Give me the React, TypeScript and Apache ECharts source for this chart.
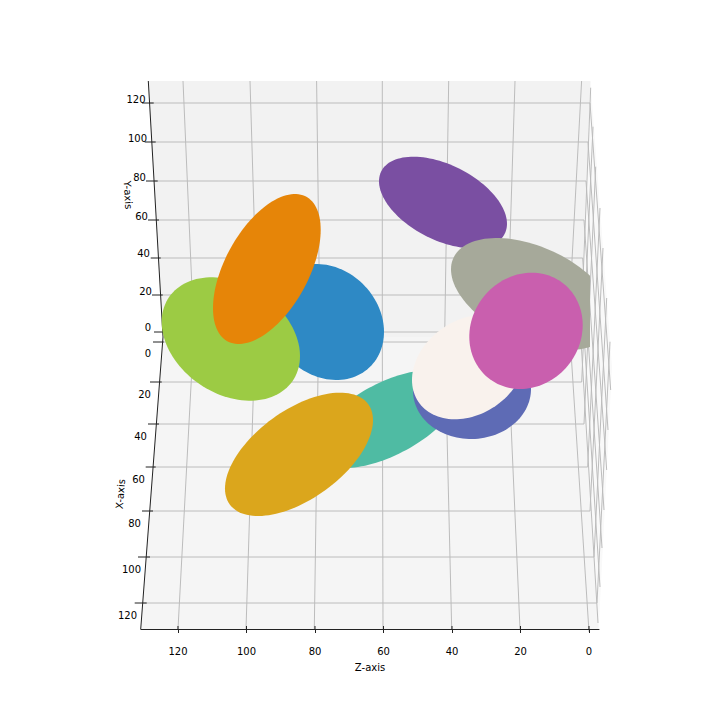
import React, { useEffect, useRef } from "react";
import * as echarts from "echarts";

// Tick labels
const zTicks = [120, 100, 80, 60, 40, 20, 0];
const yTicks = [120, 100, 80, 60, 40, 20, 0];
const xTicks = [0, 20, 40, 60, 80, 100, 120];

// Blob outlines, in the projected plane (u right, v down): left, right, top, bottom, u at top, u limit
const purple = [379, 507, 156.7, 248.3, 413.3, 999];
const grey = [451, 614, 238, 350, 496.7, 590];
const teal = [315, 460, 370, 468, 430, 999];
const indigo = [413, 531, 341, 439, 473, 999];
const beige = [412, 526, 315, 419.3, 483, 999];
const pink = [469.3, 582.7, 272.7, 389, 531.7, 999];
const blue = [269, 384, 264, 380, 316.7, 999];
const green = [161.7, 300, 277.3, 400.7, 211.7, 999];
const orange = [213, 320.7, 194, 344, 295, 999];
const gold = [225, 373, 392.7, 516, 340, 999];
const blobs = [purple, grey, teal, indigo, beige, pink, blue, green, orange, gold];
const blobColors = ["#7a4fa2", "#a6a99a", "#4fbba3", "#5e6bb5", "#f9f2ed", "#c95fae", "#2e89c5", "#9ccb44", "#e68508", "#dba61c"];

// Panes (polygon corners in the projected plane)
const backPane = [148.3, 81, 590.5, 81, 580.5, 337, 163, 337];
const floorPane = [163, 337, 580.5, 337, 598.7, 629, 140.7, 629];
const sidePane = [590.5, 81, 612, 367, 598.7, 629, 580.5, 337];
const panes = [sidePane, backPane, floorPane];
const paneColors = ["#f9f9f9", "#f2f2f2", "#f5f5f5"];

// Grid rows on the two panes: v, u start, u end
const backRowV = [103, 142, 181, 220, 258, 295, 332];
const backRowEnd = [590, 588, 586, 584, 582.7, 581.5, 580.5];
const floorRowV = [342, 382, 424, 467, 511, 557, 603];
const floorRowEnd = [580.5, 581.7, 584, 587.7, 590, 594, 597];
const leftBack = (v: number) => 148.3 + (v - 81.7) * 0.0576;
const leftFloor = (v: number) => 163.3 - (v - 341.7) * 0.0786;

// Grid columns: u at top, u at seam, u at bottom
const colTop = [183, 250, 316.6, 382.3, 448.7, 515, 581.6];
const colSeamBack = [194, 257.7, 320, 382.3, 444.7, 507, 568];
const colSeamFloor = [193.4, 255, 318.5, 382.3, 444.8, 507.4, 570.3];
const colBottom = [178, 246, 314.3, 383, 451.7, 520, 589];

// Side-pane grid: far ends
const sideRowEnd = [[610.7, 390], [608, 430], [606.7, 470], [604, 510], [602, 548], [600, 587], [598, 623]];
const sideColEnd = [[590.7, 87.7], [593, 126.7], [595.7, 166.7], [600, 208], [603, 248], [606.7, 298], [610, 341.7]];

// Left ticks: v, u start, u end
const backTickStart = [142, 144.7, 146, 148, 150.7, 152, 154];
const backTickEnd = [153.7, 155.7, 157.7, 159, 160.7, 162.7, 163];
const floorTickStart = [153, 150, 148, 145.7, 142, 138, 134.7];
const floorTickEnd = [163.7, 161.7, 159, 155.7, 153, 150, 146.7];

// Left tick label centres
const yLabelU = [136, 137.5, 139.5, 141.5, 143.5, 145.5, 148];
const yLabelV = [99, 138, 177, 216, 253, 291, 327];
const xLabelU = [148, 144.5, 140.5, 138.5, 134.5, 131.5, 127.5];
const xLabelV = [353, 394, 436, 479, 523, 569, 615];

const gridRows: number[][] = [];
backRowV.forEach((v, i) => gridRows.push([leftBack(v), v, backRowEnd[i], v]));
floorRowV.forEach((v, i) => gridRows.push([leftFloor(v), v, floorRowEnd[i], v]));
colTop.forEach((u, i) => gridRows.push([u, 81, colSeamBack[i], 335]));
colSeamFloor.forEach((u, i) => gridRows.push([u, 341, colBottom[i], i === 6 ? 632 : 629]));
backRowV.forEach((v, i) => gridRows.push([backRowEnd[i], v, sideRowEnd[i][0], sideRowEnd[i][1]]));
floorRowV.forEach((v, i) => gridRows.push([floorRowEnd[i], v, sideColEnd[i][0], sideColEnd[i][1]]));

const axisRows: number[][] = [
  [148.3, 81, 163, 337],
  [163, 337, 140.7, 629.3],
];
backRowV.forEach((v, i) => axisRows.push([backTickStart[i], v, backTickEnd[i], v]));
floorRowV.forEach((v, i) => axisRows.push([floorTickStart[i], v, floorTickEnd[i], v]));

type Lab = { value: number[]; text: string; rot: number };
const labelRows: Lab[] = [];
yTicks.forEach((t, i) => labelRows.push({ value: [yLabelU[i], yLabelV[i]], text: String(t), rot: 0 }));
xTicks.forEach((t, i) => labelRows.push({ value: [xLabelU[i], xLabelV[i]], text: String(t), rot: 0 }));
labelRows.push({ value: [128, 195], text: "Y-axis", rot: (-86.6 * Math.PI) / 180 });
labelRows.push({ value: [120.5, 494], text: "X-axis", rot: (85.6 * Math.PI) / 180 });

const FONT = "DejaVu Sans";

function lineSeries(rows: number[][], stroke: string, lineWidth: number) {
  return {
    type: "custom",
    xAxisIndex: 1,
    yAxisIndex: 1,
    silent: true,
    data: rows,
    renderItem: (_: any, api: any) => {
      const a = api.coord([api.value(0), api.value(1)]);
      const b = api.coord([api.value(2), api.value(3)]);
      return {
        type: "line",
        shape: { x1: a[0], y1: a[1], x2: b[0], y2: b[1] },
        style: { stroke, lineWidth },
      };
    },
  };
}

function blobPoints(api: any) {
  const [l, r, t, b, topU, limit] = [0, 1, 2, 3, 4, 5].map((d) => api.value(d));
  const cu = (l + r) / 2;
  const cv = (t + b) / 2;
  const hw = (r - l) / 2;
  const hh = (b - t) / 2;
  const rho = (cu - topU) / hw;
  const root = Math.sqrt(1 - rho * rho);
  const pts: number[][] = [];
  for (let k = 0; k < 120; k++) {
    const a = (k / 120) * Math.PI * 2;
    const u = cu + hw * Math.cos(a);
    const v = cv + hh * (rho * Math.cos(a) + root * Math.sin(a));
    pts.push(api.coord([Math.min(u, limit), v]));
  }
  return pts;
}

export default function App() {
  const ref = useRef<HTMLDivElement>(null);
  useEffect(() => {
    const chart = echarts.init(ref.current!, undefined, { renderer: "svg" });
    chart.setOption({
      animation: false,
      backgroundColor: "#ffffff",
      textStyle: { fontFamily: FONT, fontSize: 10, color: "#000" },
      grid: [
        { left: 141, right: 121, top: 81, bottom: 91 },
        { left: 0, right: 0, top: 0, bottom: 0 },
      ],
      xAxis: [
        {
          gridIndex: 0,
          type: "value",
          inverse: true,
          min: -2.92,
          max: 130.8,
          z: 10,
          name: "Z-axis",
          nameLocation: "middle",
          nameGap: 33,
          nameTextStyle: { fontFamily: FONT, fontSize: 10, color: "#000" },
          axisLine: { show: true, onZero: false, lineStyle: { color: "#222", width: 1 } },
          axisTick: { show: true, length: 4, lineStyle: { color: "#222", width: 1 }, customValues: zTicks },
          axisLabel: { show: true, margin: 17, fontFamily: FONT, fontSize: 10, color: "#000", customValues: zTicks },
          splitLine: { show: false },
        },
        { gridIndex: 1, type: "value", min: 0, max: 720, show: false },
      ],
      yAxis: [
        { gridIndex: 0, type: "value", min: 0, max: 1, show: false },
        { gridIndex: 1, type: "value", min: 0, max: 720, inverse: true, show: false },
      ],
      series: [
        {
          type: "custom",
          xAxisIndex: 1,
          yAxisIndex: 1,
          silent: true,
          data: panes,
          renderItem: (p: any, api: any) => {
            const pts = [0, 2, 4, 6].map((d) => api.coord([api.value(d), api.value(d + 1)]));
            return { type: "polygon", shape: { points: pts }, style: { fill: paneColors[p.dataIndex] } };
          },
        },
        lineSeries(gridRows, "#bcbcbc", 1),
        lineSeries(axisRows, "#222222", 1),
        {
          type: "custom",
          xAxisIndex: 0,
          yAxisIndex: 0,
          silent: true,
          data: zTicks.map((z) => [z, 0]),
          renderItem: (_: any, api: any) => {
            const a = api.coord([api.value(0), 0]);
            return {
              type: "line",
              shape: { x1: a[0], y1: a[1] - 3, x2: a[0], y2: a[1] },
              style: { stroke: "#222222", lineWidth: 1 },
            };
          },
        },
        {
          type: "custom",
          xAxisIndex: 1,
          yAxisIndex: 1,
          silent: true,
          data: blobs,
          renderItem: (p: any, api: any) => ({
            type: "polygon",
            shape: { points: blobPoints(api) },
            style: { fill: blobColors[p.dataIndex] },
          }),
        },
        {
          type: "custom",
          xAxisIndex: 1,
          yAxisIndex: 1,
          silent: true,
          data: labelRows.map((r) => r.value),
          renderItem: (p: any, api: any) => {
            const c = api.coord([api.value(0), api.value(1)]);
            const row = labelRows[p.dataIndex];
            return {
              type: "text",
              x: c[0],
              y: c[1],
              rotation: row.rot,
              style: {
                text: row.text,
                fill: "#000",
                font: `10px "${FONT}"`,
                textAlign: "center",
                textVerticalAlign: "middle",
                verticalAlign: "middle",
              },
            };
          },
        },
      ],
    });
    return () => chart.dispose();
  }, []);
  return <div ref={ref} style={{ position: "absolute", left: 0, top: 0, width: 720, height: 720 }} />;
}
